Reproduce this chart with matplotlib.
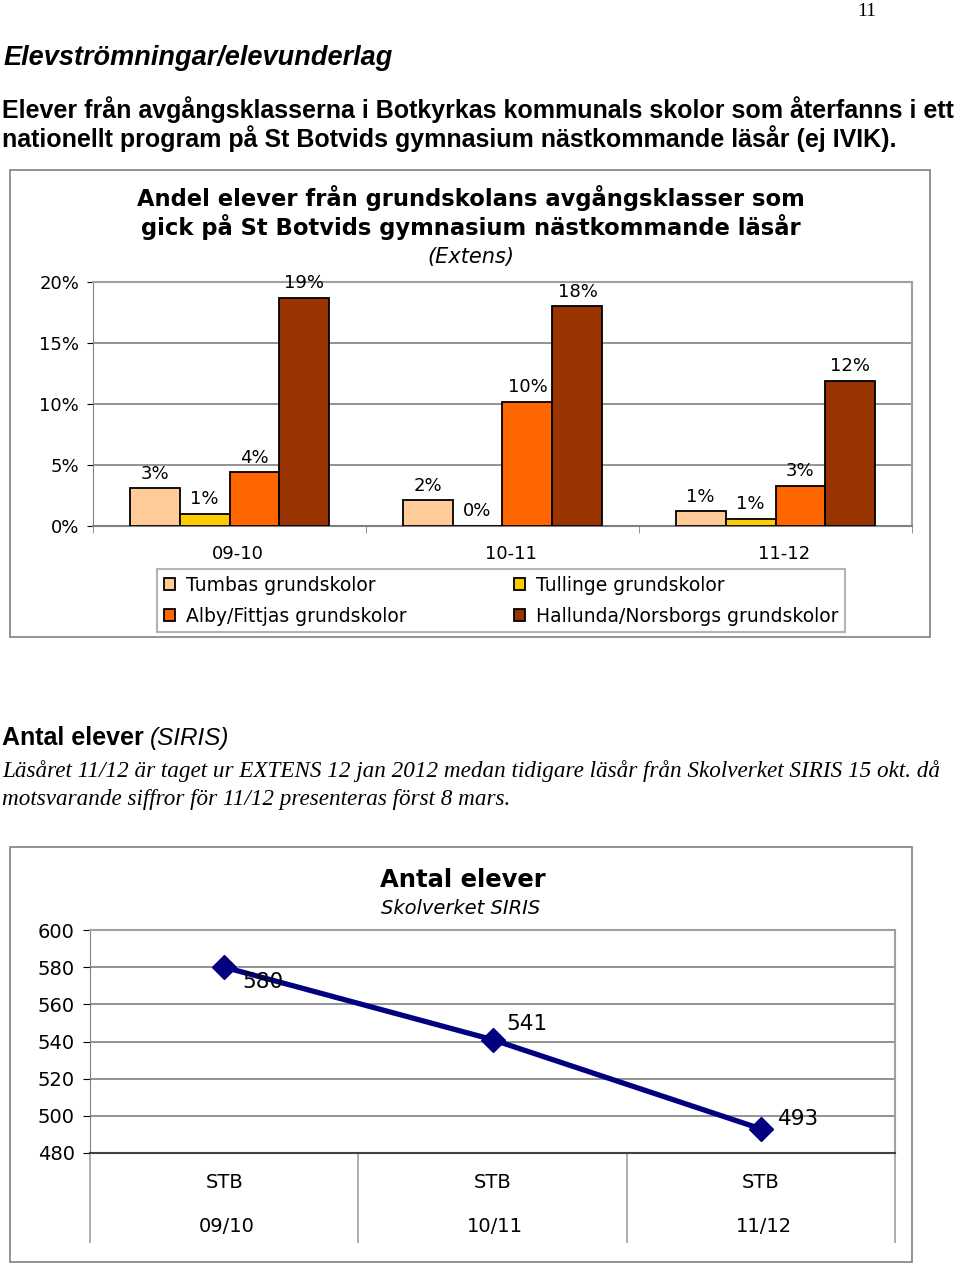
import numpy as np
import matplotlib
matplotlib.use("Agg")
import matplotlib.pyplot as plt
from matplotlib.patches import Rectangle
from matplotlib.ticker import FuncFormatter
import matplotlib.transforms as mtransforms

# data
years = ["09-10", "10-11", "11-12"]
schools = ["Tumbas grundskolor", "Tullinge grundskolor",
           "Alby/Fittjas grundskolor", "Hallunda/Norsborgs grundskolor"]
tumba = [0.031, 0.021, 0.012]
tullinge = [0.010, 0.000, 0.006]
alby = [0.044, 0.102, 0.033]
hallunda = [0.187, 0.180, 0.119]

line_cats = ["09/10", "10/11", "11/12"]
line_vals = [580, 541, 493]

W, H = 960, 1265
fig = plt.figure(figsize=(W / 100, H / 100), dpi=100)

def fx(px):
    return px / W

def fy(py):
    return 1 - py / H

page = "Liberation Sans"
chart = "DejaVu Sans"

# page text
fig.text(fx(867), fy(12), "11", family="Liberation Serif", fontsize=14, ha="center", va="center")
fig.text(fx(4), fy(58), "Elevströmningar/elevunderlag", family=page, fontsize=19.5,
         weight="bold", style="italic", va="center")
fig.text(fx(2), fy(110), "Elever från avgångsklasserna i Botkyrkas kommunals skolor som återfanns i ett",
         family=page, fontsize=18, weight="bold", va="center")
fig.text(fx(2), fy(139), "nationellt program på St Botvids gymnasium nästkommande läsår (ej IVIK).",
         family=page, fontsize=18, weight="bold", va="center")
fig.text(fx(2), fy(738), "Antal elever", family=page, fontsize=18, weight="bold", va="center")
fig.text(fx(150), fy(738), "(SIRIS)", family=page, fontsize=17.5, style="italic", va="center")
fig.text(fx(2), fy(771), "Läsåret 11/12 är taget ur EXTENS 12 jan 2012 medan tidigare läsår från Skolverket SIRIS 15 okt. då",
         family="Liberation Serif", fontsize=16.7, style="italic", va="center")
fig.text(fx(2), fy(799), "motsvarande siffror för 11/12 presenteras först 8 mars.",
         family="Liberation Serif", fontsize=16.7, style="italic", va="center")

# frames around the two charts
fig.patches.append(Rectangle((fx(10), fy(637)), fx(920), (637 - 170) / H, transform=fig.transFigure,
                             fill=False, edgecolor="#808080", lw=1.2))
fig.patches.append(Rectangle((fx(10), fy(1262)), fx(902), (1262 - 847) / H, transform=fig.transFigure,
                             fill=False, edgecolor="#808080", lw=1.2))

# ---- bar chart ----
ax1 = fig.add_axes([fx(93), fy(526), fx(912 - 93), (526 - 282) / H])
x = np.arange(len(years))
bw = 0.183
series = [tumba, tullinge, alby, hallunda]
colors = ["#FFCC99", "#FFCC00", "#FF6600", "#993300"]
handles = []
for i, (vals, c, name) in enumerate(zip(series, colors, schools)):
    bars = ax1.bar(x + (i - 1.5) * bw, vals, bw, color=c, edgecolor="black", lw=1.3,
                   label=name, zorder=3)
    handles.append(bars)
    for b, v in zip(bars, vals):
        ax1.annotate(f"{round(v * 100):.0f}%", (b.get_x() + b.get_width() / 2, v),
                     xytext=(0, 4), textcoords="offset points", ha="center", va="bottom",
                     family=chart, fontsize=13)

ax1.set_xlim(-0.5, 2.5)
ax1.set_ylim(0, 0.20)
ax1.set_yticks(np.arange(0, 0.21, 0.05))
ax1.yaxis.set_major_formatter(FuncFormatter(lambda v, p: f"{v * 100:.0f}%"))
ax1.grid(axis="y", color="#808080", lw=1.2, zorder=0)
ax1.set_xticks(x + 0.03)
ax1.set_xticklabels(years)
ax1.set_xticks([-0.5, 0.5, 1.5, 2.5], minor=True)
ax1.tick_params(axis="x", which="major", length=0, pad=14)
ax1.tick_params(axis="x", which="minor", length=5, color="#808080")
ax1.tick_params(axis="y", length=4, pad=6)
for lab in ax1.get_xticklabels() + ax1.get_yticklabels():
    lab.set_family(chart)
    lab.set_fontsize(13)
for s in ["top", "right"]:
    ax1.spines[s].set_color("#a0a0a0")
    ax1.spines[s].set_lw(1.5)
ax1.spines["left"].set_color("#808080")
ax1.spines["bottom"].set_color("#808080")
ax1.spines["bottom"].set_lw(1.5)

fig.text(fx(471), fy(198), "Andel elever från grundskolans avgångsklasser som", family=chart,
         fontsize=16.3, weight="bold", ha="center", va="center")
fig.text(fx(471), fy(227), "gick på St Botvids gymnasium nästkommande läsår", family=chart,
         fontsize=16.3, weight="bold", ha="center", va="center")
fig.text(fx(471), fy(257), "(Extens)", family=chart, fontsize=15, style="italic",
         ha="center", va="center")

# legend filled row by row like the original
order = [0, 2, 1, 3]
leg = ax1.legend([handles[k] for k in order], [schools[k] for k in order],
                 loc="upper left", bbox_to_anchor=(fx(157), fy(569)), bbox_transform=fig.transFigure,
                 ncol=2, prop={"family": chart, "size": 13.5}, frameon=True, fancybox=False,
                 edgecolor="#a0a0a0", handlelength=0.6, handleheight=0.6, handletextpad=0.6,
                 columnspacing=5.7, borderpad=0.35, labelspacing=0.65, borderaxespad=0)
leg.get_frame().set_linewidth(1.5)

# ---- line chart ----
ax2 = fig.add_axes([fx(90), fy(1153), fx(895 - 90), (1153 - 930) / H])
xl = np.arange(len(line_cats))
ax2.plot(xl, line_vals, color="#000080", lw=3.8, marker="D", ms=12, zorder=3)
offsets = [(13, -11), (10, 11), (12, 7)]
for xi, v, off in zip(xl, line_vals, offsets):
    ax2.annotate(str(v), (xi, v), xytext=off, textcoords="offset points", ha="left",
                 va="center", family=chart, fontsize=15.5)
ax2.set_xlim(-0.5, 2.5)
ax2.set_ylim(480, 600)
ax2.set_yticks(np.arange(480, 601, 20))
ax2.grid(axis="y", color="#808080", lw=1.2, zorder=0)
ax2.set_xticks([])
ax2.tick_params(axis="y", length=5, pad=6, labelsize=14)
for lab in ax2.get_yticklabels():
    lab.set_family(chart)
for s in ["top", "right"]:
    ax2.spines[s].set_color("#a0a0a0")
    ax2.spines[s].set_lw(1.5)
ax2.spines["left"].set_color("#808080")
ax2.spines["bottom"].set_color("#404040")
ax2.spines["bottom"].set_lw(1.5)

trans = mtransforms.blended_transform_factory(ax2.transData, ax2.transAxes)
ax2.vlines([-0.5, 0.5, 1.5, 2.5], 0, -(1243 - 1153) / (1153 - 930), transform=trans,
           color="#a0a0a0", lw=1.2, clip_on=False)
for xi, c in zip(xl, line_cats):
    ax2.text(xi, -(1183 - 1153) / (1153 - 930), "STB", transform=trans, ha="center", va="center",
             family=chart, fontsize=14)
    ax2.text(xi + 0.01, -(1227 - 1153) / (1153 - 930), c, transform=trans, ha="center", va="center",
             family=chart, fontsize=14)

fig.text(fx(463), fy(880), "Antal elever", family=chart, fontsize=17.5, weight="bold",
         ha="center", va="center")
fig.text(fx(461), fy(908), "Skolverket SIRIS", family=chart, fontsize=14, style="italic",
         ha="center", va="center")

fig.savefig("out.png", dpi=100)
